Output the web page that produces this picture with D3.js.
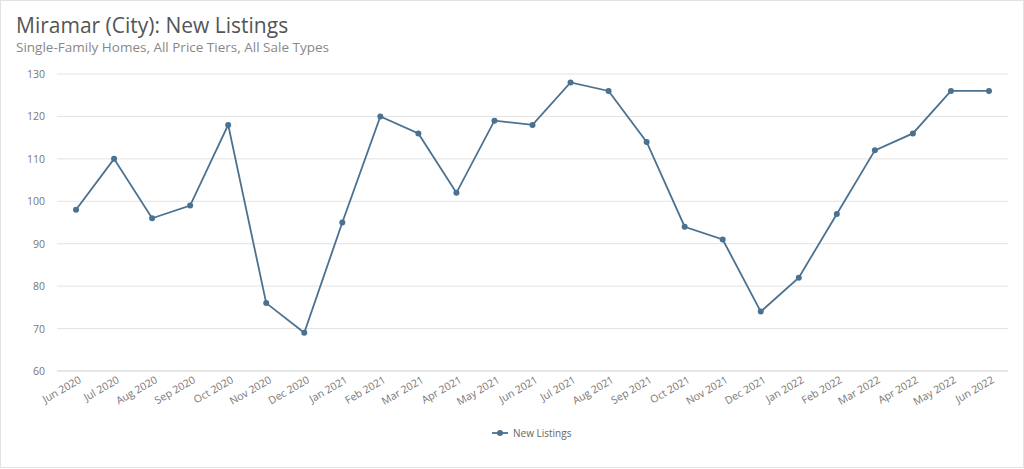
<!DOCTYPE html>
<html>
<head>
<meta charset="utf-8">
<script src="https://cdn.jsdelivr.net/npm/d3@7"></script>
<style>
  body { margin: 0; background: #fff; font-family: "Open Sans", "DejaVu Sans", sans-serif; }
</style>
</head>
<body>
<div id="chart"></div>
<script>
const months = ["Jun 2020","Jul 2020","Aug 2020","Sep 2020","Oct 2020","Nov 2020","Dec 2020",
  "Jan 2021","Feb 2021","Mar 2021","Apr 2021","May 2021","Jun 2021","Jul 2021","Aug 2021",
  "Sep 2021","Oct 2021","Nov 2021","Dec 2021","Jan 2022","Feb 2022","Mar 2022","Apr 2022",
  "May 2022","Jun 2022"];
const newListings = [98,110,96,99,118,76,69,95,120,116,102,119,118,128,126,114,94,91,74,82,97,112,116,126,126];
const yTicks = [60,70,80,90,100,110,120,130];

const W = 1024, H = 469;
const color = "#4b7190";

const svg = d3.select("#chart").append("svg")
  .attr("width", W).attr("height", H);

svg.append("rect")
  .attr("x", 0.5).attr("y", 0.5).attr("width", W - 1).attr("height", H - 2)
  .attr("fill", "none").attr("stroke", "#e2e2e2");

svg.append("text").attr("x", 16).attr("y", 33)
  .attr("font-size", 21).attr("fill", "#555")
  .text("Miramar (City): New Listings");
svg.append("text").attr("x", 16).attr("y", 52)
  .attr("font-size", 13.5).attr("fill", "#888")
  .text("Single-Family Homes, All Price Tiers, All Sale Types");

let x = d3.scalePoint().domain(months).range([57, 1008]).padding(0.5);
let y = d3.scaleLinear().domain([60, 130]).range([371, 74]);

// gridlines
svg.append("g").selectAll("line").data(yTicks).enter().append("line")
  .attr("x1", 57).attr("x2", 1008)
  .attr("y1", d => y(d)).attr("y2", d => y(d))
  .attr("stroke", d => d === 60 ? "#cfcfcf" : "#e3e3e3");

// y labels
svg.append("g").selectAll("text").data(yTicks).enter().append("text")
  .attr("x", 45).attr("y", d => y(d) + 4)
  .attr("text-anchor", "end").attr("font-size", 10.5).attr("fill", "#777")
  .text(d => d);

// x labels
svg.append("g").selectAll("text").data(months).enter().append("text")
  .attr("transform", d => "translate(" + (x(d) + 6) + ",382) rotate(-30)")
  .attr("text-anchor", "end").attr("font-size", 10.5).attr("fill", "#777")
  .text(d => d);

const pts = months.map((m, i) => ({ m, v: newListings[i] }));

svg.append("path").datum(pts)
  .attr("d", d3.line().x(d => x(d.m)).y(d => y(d.v)))
  .attr("fill", "none").attr("stroke", color).attr("stroke-width", 1.8);

svg.append("g").selectAll("circle").data(pts).enter().append("circle")
  .attr("cx", d => x(d.m)).attr("cy", d => y(d.v)).attr("r", 3)
  .attr("fill", color);

// legend
const lg = svg.append("g").attr("transform", "translate(492,433)");
lg.append("line").attr("x1", 0).attr("x2", 16).attr("stroke", color).attr("stroke-width", 1.8);
lg.append("circle").attr("cx", 8).attr("r", 3).attr("fill", color);
lg.append("text").attr("x", 21).attr("y", 3.5).attr("font-size", 10).attr("fill", "#666").text("New Listings");
</script>
</body>
</html>
